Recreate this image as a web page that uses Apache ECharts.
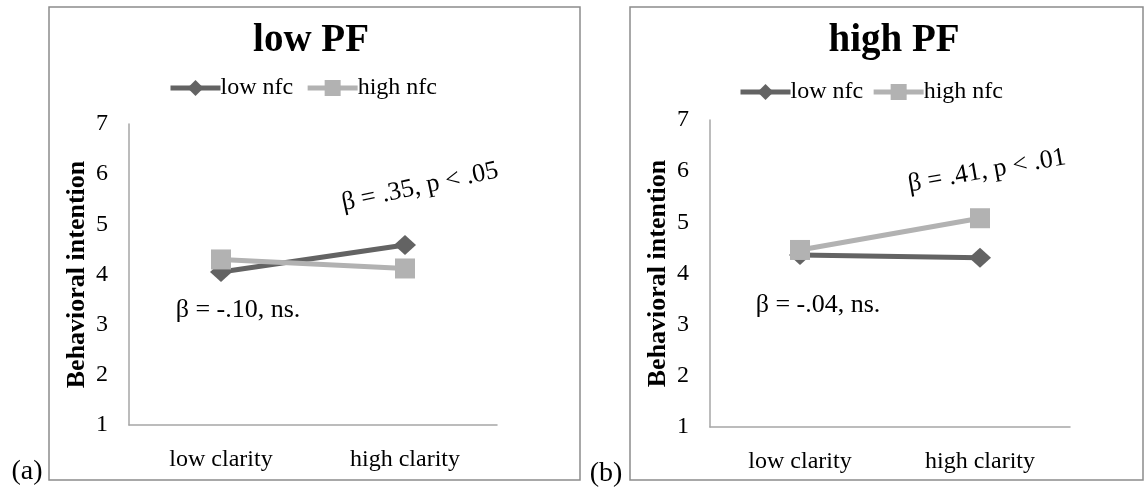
<!DOCTYPE html>
<html>
<head>
<meta charset="utf-8">
<script src="https://cdn.jsdelivr.net/npm/echarts@6/dist/echarts.min.js"></script>
<style>
  html, body { margin: 0; padding: 0; background: #fff; }
  #main { width: 1146px; height: 489px; }
</style>
</head>
<body>
<div id="main"></div>
<script>
// data
var categories = ['low clarity', 'high clarity'];
var seriesNames = ['low nfc', 'high nfc'];
var lowPF_lowNfc = [4.05, 4.59];
var lowPF_highNfc = [4.30, 4.12];
var highPF_lowNfc = [4.36, 4.31];
var highPF_highNfc = [4.46, 5.08];
var yTicks = [1, 2, 3, 4, 5, 6, 7];

var FONT = '"Liberation Serif", "Times New Roman", serif';
var DARK = '#636363';
var LIGHT = '#b2b2b2';

var myChart = echarts.init(document.getElementById('main'));

function xAxis(gi) {
  return {
    type: 'category', gridIndex: gi, data: categories,
    axisLine: { show: true, lineStyle: { color: '#a6a6a6', width: 1.5 } },
    axisTick: { show: false },
    axisLabel: { fontFamily: FONT, fontSize: 24, color: '#000', margin: 23 }
  };
}
function yAxis(gi) {
  return {
    type: 'value', gridIndex: gi, min: yTicks[0], max: yTicks[yTicks.length - 1], interval: 1,
    name: 'Behavioral intention', nameLocation: 'middle', nameGap: 39,
    nameTextStyle: { fontFamily: FONT, fontSize: 26, fontWeight: 'bold', color: '#000' },
    axisLine: { show: true, lineStyle: { color: '#a6a6a6', width: 1.5 } },
    axisTick: { show: false },
    splitLine: { show: false },
    axisLabel: { fontFamily: FONT, fontSize: 24, color: '#000', margin: 21 }
  };
}
function line(name, gi, data) {
  var dark = name === seriesNames[0];
  return {
    name: name, type: 'line', xAxisIndex: gi, yAxisIndex: gi, data: data,
    symbol: dark ? 'diamond' : 'rect',
    symbolSize: dark ? [22, 20] : 20,
    lineStyle: { color: dark ? DARK : LIGHT, width: 5 },
    itemStyle: { color: dark ? DARK : LIGHT },
    animation: false
  };
}
function note(text, x, y, rot) {
  return {
    type: 'text', x: x, y: y, rotation: rot * Math.PI / 180,
    style: { text: text, fontFamily: FONT, fontSize: 26, fill: '#000', align: 'center', verticalAlign: 'middle' }
  };
}
function legend(left, top, gap) {
  return {
    data: seriesNames.map(function (n, i) {
      return { name: n, lineStyle: { width: 5, color: i ? LIGHT : DARK } };
    }),
    left: left, top: top, padding: 0, itemWidth: 50, itemHeight: 20, itemGap: gap,
    textStyle: { fontFamily: FONT, fontSize: 24, color: '#000', padding: [0, 0, 0, -5] },
    selectedMode: false
  };
}

myChart.setOption({
  animation: false,
  title: [
    { text: 'low PF', left: 306, textAlign: 'center', top: 16,
      textStyle: { fontFamily: FONT, fontSize: 39, fontWeight: 'bold', color: '#000' } },
    { text: 'high PF', left: 889, textAlign: 'center', top: 16,
      textStyle: { fontFamily: FONT, fontSize: 39, fontWeight: 'bold', color: '#000' } }
  ],
  legend: [legend(168, 76, 12), legend(738, 80, 8)],
  grid: [
    { left: 129, top: 124, width: 368, height: 301 },
    { left: 710, top: 120, width: 360, height: 307 }
  ],
  xAxis: [xAxis(0), xAxis(1)],
  yAxis: [yAxis(0), yAxis(1)],
  series: [
    line(seriesNames[0], 0, lowPF_lowNfc),
    line(seriesNames[1], 0, lowPF_highNfc),
    line(seriesNames[0], 1, highPF_lowNfc),
    line(seriesNames[1], 1, highPF_highNfc)
  ],
  graphic: [
    { type: 'rect', shape: { x: 49, y: 7, width: 531, height: 473 },
      style: { fill: null, stroke: '#8c8c8c', lineWidth: 1.5 }, silent: true },
    { type: 'rect', shape: { x: 630, y: 7, width: 513, height: 473 },
      style: { fill: null, stroke: '#8c8c8c', lineWidth: 1.5 }, silent: true },
    note('β = -.10, ns.', 238, 310, 0),
    note('β = .35, p < .05', 420, 187, 12),
    note('β = -.04, ns.', 818, 305, 0),
    note('β = .41, p < .01', 987, 171, 10),
    { type: 'text', x: 27, y: 472,
      style: { text: '(a)', fontFamily: FONT, fontSize: 28, fill: '#000', align: 'center', verticalAlign: 'middle' } },
    { type: 'text', x: 606, y: 474,
      style: { text: '(b)', fontFamily: FONT, fontSize: 28, fill: '#000', align: 'center', verticalAlign: 'middle' } }
  ]
});
</script>
</body>
</html>
